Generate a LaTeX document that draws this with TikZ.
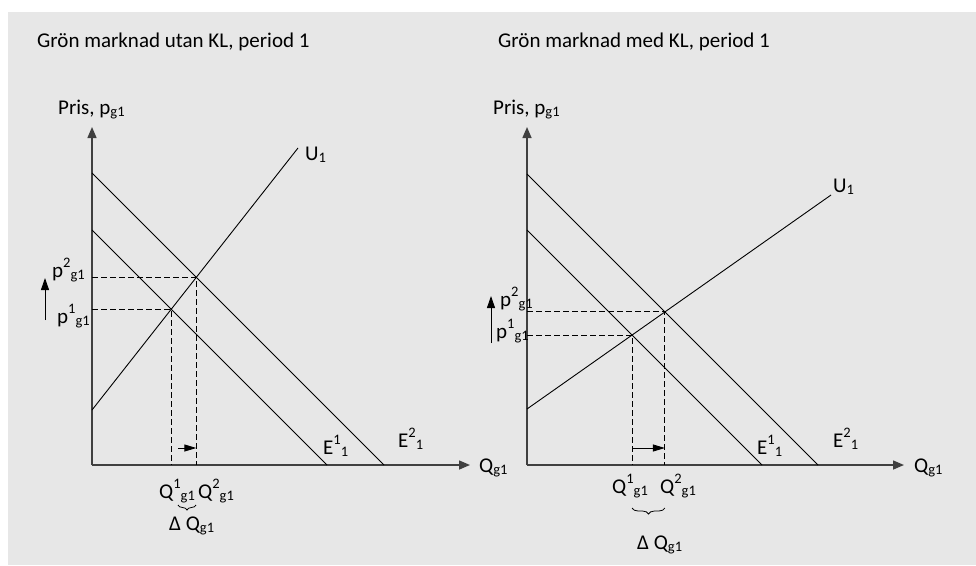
\documentclass[tikz,border=0pt]{standalone}
\usepackage{fontspec}
\setmainfont{Carlito}
\usetikzlibrary{arrows.meta,decorations.pathreplacing}
\newcommand\Sup[1]{\raisebox{0.45em}{\fontsize{14.5}{15}\selectfont #1}}
\newcommand\Sub[1]{\raisebox{-0.12em}{\fontsize{14.5}{15}\selectfont #1}}
\definecolor{bg}{HTML}{E7E7E7}
\definecolor{axiscol}{HTML}{404040}
\begin{document}
\begin{tikzpicture}[x=1pt,y=-1pt,
  font=\fontsize{21}{25}\selectfont,
  lbl/.style={inner sep=0pt, anchor=base west},
  axisline/.style={draw=axiscol, line width=1.5pt, -{Triangle[length=11pt,width=9pt]}},
  curve/.style={draw=black, line width=0.9pt},
  guide/.style={draw=black, line width=0.9pt, dash pattern=on 6pt off 3pt},
  shiftarrow/.style={draw=black, line width=0.9pt, -{Triangle[length=12pt,width=7pt]}},
  uparrow/.style={draw=black, line width=0.9pt, -{Triangle[length=12pt,width=8pt]}},
  bracedec/.style={draw=black, line width=0.8pt, decorate, decoration={brace, mirror, amplitude=#1}}
]
\useasboundingbox (0,0) rectangle (976,565);
\fill[bg] (8,12) rectangle (976,565);

% ---------- titles ----------
\node[lbl] (tL) at (37,47) {Grön marknad utan KL, period 1};
\node[lbl] (tR) at (498,47) {Grön marknad med KL, period 1};

% ---------- left chart ----------
\coordinate (LO) at (92,465);
\coordinate (LY) at (92,127);
\coordinate (LX) at (470,465);
\draw[axisline] (LO) -- (LY);
\draw[axisline] (LO) -- (LX);
\coordinate (LE1a) at (92,230);
\coordinate (LE1b) at (327,465);
\coordinate (LE2a) at (92,173);
\coordinate (LE2b) at (384,465);
\coordinate (LUa) at (92,410);
\coordinate (LUb) at (298,148);
\draw[curve] (LE1a) -- (LE1b);
\draw[curve] (LE2a) -- (LE2b);
\draw[curve] (LUa) -- (LUb);
\coordinate (LP1) at (intersection of LE1a--LE1b and LUa--LUb);
\coordinate (LP2) at (intersection of LE2a--LE2b and LUa--LUb);
\draw[guide] (LO |- LP1) -- (LP1) -- (LP1 |- LO);
\draw[guide] (LO |- LP2) -- (LP2) -- (LP2 |- LO);
\coordinate (LA1) at (178,448);
\draw[shiftarrow] (LA1) -- (LA1 -| LP2);
\coordinate (LUA1) at (45,320);
\coordinate (LUA2) at (45,278);
\draw[uparrow] (LUA1) -- (LUA2);
\coordinate (LB1) at (178,505);
\coordinate (LB2) at (196,505);
\draw[bracedec=5pt] (LB1) -- (LB2);

\node[lbl] (LPris) at (58,114) {Pris, p\Sub{g1}};
\node[lbl] (LQ) at (479,472) {Q\Sub{g1}};
\node[lbl] (LU) at (305,160) {U\Sub{1}};
\node[lbl] (LE1) at (323,454) {E\Sup{1}\Sub{1}};
\node[lbl] (LE2) at (398,447) {E\Sup{2}\Sub{1}};
\node[lbl] (Lp2) at (52,277) {p\Sup{2}\Sub{g1}};
\node[lbl] (Lp1) at (57,323) {p\Sup{1}\Sub{g1}};
\node[lbl] (LQ1) at (159,498) {Q\Sup{1}\Sub{g1}};
\node[lbl] (LQ2) at (198,498) {Q\Sup{2}\Sub{g1}};
\node[lbl] (LdQ) at (169,530) {Δ Q\Sub{g1}};

% ---------- right chart ----------
\coordinate (RO) at (527,465);
\coordinate (RY) at (527,127);
\coordinate (RX) at (904,465);
\draw[axisline] (RO) -- (RY);
\draw[axisline] (RO) -- (RX);
\coordinate (RE1a) at (527,230);
\coordinate (RE1b) at (762,465);
\coordinate (RE2a) at (527,174);
\coordinate (RE2b) at (818,465);
\coordinate (RUa) at (527,409);
\coordinate (RUb) at (831,195);
\draw[curve] (RE1a) -- (RE1b);
\draw[curve] (RE2a) -- (RE2b);
\draw[curve] (RUa) -- (RUb);
\coordinate (RP1) at (intersection of RE1a--RE1b and RUa--RUb);
\coordinate (RP2) at (intersection of RE2a--RE2b and RUa--RUb);
\draw[guide] (RO |- RP1) -- (RP1) -- (RP1 |- RO);
\draw[guide] (RO |- RP2) -- (RP2) -- (RP2 |- RO);
\coordinate (RA0) at (0,448);
\draw[shiftarrow] (RP1 |- RA0) -- (RP2 |- RA0);
\coordinate (RUA1) at (491,343);
\coordinate (RUA2) at (491,296);
\draw[uparrow] (RUA1) -- (RUA2);
\coordinate (RB0) at (0,508);
\draw[bracedec=6pt] (RP1 |- RB0) -- (RP2 |- RB0);

\node[lbl] (RPris) at (493,114) {Pris, p\Sub{g1}};
\node[lbl] (RQ) at (914,472) {Q\Sub{g1}};
\node[lbl] (RU) at (833,192) {U\Sub{1}};
\node[lbl] (RE1) at (757,454) {E\Sup{1}\Sub{1}};
\node[lbl] (RE2) at (833,447) {E\Sup{2}\Sub{1}};
\node[lbl] (Rp2) at (500,306) {p\Sup{2}\Sub{g1}};
\node[lbl] (Rp1) at (496,338) {p\Sup{1}\Sub{g1}};
\node[lbl] (RQ1) at (612,493) {Q\Sup{1}\Sub{g1}};
\node[lbl] (RQ2) at (660,493) {Q\Sup{2}\Sub{g1}};
\node[lbl] (RdQ) at (637,549) {Δ Q\Sub{g1}};
\end{tikzpicture}
\end{document}
